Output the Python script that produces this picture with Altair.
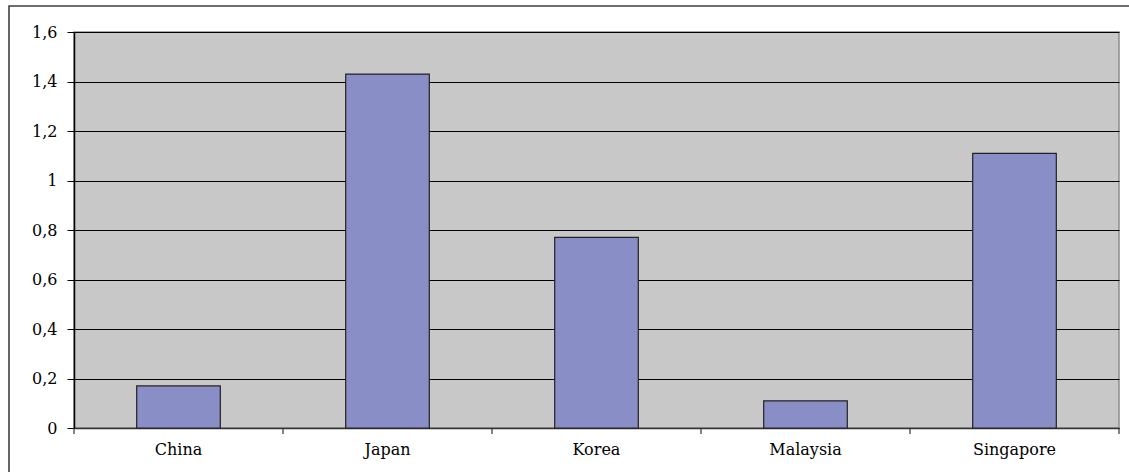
import altair as alt
import pandas as pd

countries = ["China", "Japan", "Korea", "Malaysia", "Singapore"]
values = [0.17, 1.43, 0.77, 0.11, 1.11]
y_ticks = [0, 0.2, 0.4, 0.6, 0.8, 1.0, 1.2, 1.4, 1.6]

df = pd.DataFrame({"country": countries, "value": values})

FONT = "DejaVu Serif"

x_enc = alt.X(
    "country:N",
    sort=countries,
    title=None,
    scale=alt.Scale(paddingInner=0, paddingOuter=0),
    axis=alt.Axis(
        labelAngle=0,
        ticks=False,
        labelPadding=13,
        labelFont=FONT,
        labelFontSize=16,
        labelColor="#000000",
        domainColor="#333333",
        domainWidth=1.5,
    ),
)

y_enc = alt.Y(
    "value:Q",
    title=None,
    scale=alt.Scale(domain=[0, 1.6], nice=False),
    axis=alt.Axis(
        values=y_ticks,
        labelExpr="replace(format(datum.value, '.1~f'), '.', ',')",
        grid=True,
        gridColor="#000000",
        gridWidth=1,
        tickColor="#000000",
        tickSize=7,
        labelPadding=10,
        labelFont=FONT,
        labelFontSize=16,
        labelColor="#000000",
        domainColor="#000000",
        domainWidth=1.5,
    ),
)

bars = alt.Chart(df).mark_bar(
    width=alt.RelativeBandSize(0.4),
    color="#8a8ec6",
    stroke="#222222",
    strokeWidth=1.2,
).encode(x=x_enc, y=y_enc)

# category separator ticks below the x axis
sep = alt.Chart(df).mark_rule(color="#333333", strokeWidth=1.2).encode(
    x=alt.X("country:N", sort=countries, bandPosition=0),
    y=alt.value(396),
    y2=alt.value(402),
)
sep_end = alt.Chart(df).transform_filter(
    alt.datum.country == countries[-1]
).mark_rule(color="#333333", strokeWidth=1.2).encode(
    x=alt.X("country:N", sort=countries, bandPosition=1),
    y=alt.value(396),
    y2=alt.value(402),
)

# outer chart frame
frame = alt.Chart(pd.DataFrame({"f": [0]})).mark_rect(
    fill=None, stroke="#404040", strokeWidth=1.6
).encode(
    x=alt.value(-65), x2=alt.value(1075),
    y=alt.value(-26), y2=alt.value(460),
)

chart = alt.layer(bars, sep, sep_end, frame).properties(
    width=1045,
    height=396,
    autosize=alt.AutoSizeParams(type="none"),
    padding={"left": 74, "top": 32, "right": 10, "bottom": 44},
    background="#ffffff",
).configure_view(
    fill="#c8c8c8",
    stroke="#8c8c8c",
    strokeWidth=1.5,
)

chart.save("out.html", embed_options={"renderer": "svg", "actions": False})
